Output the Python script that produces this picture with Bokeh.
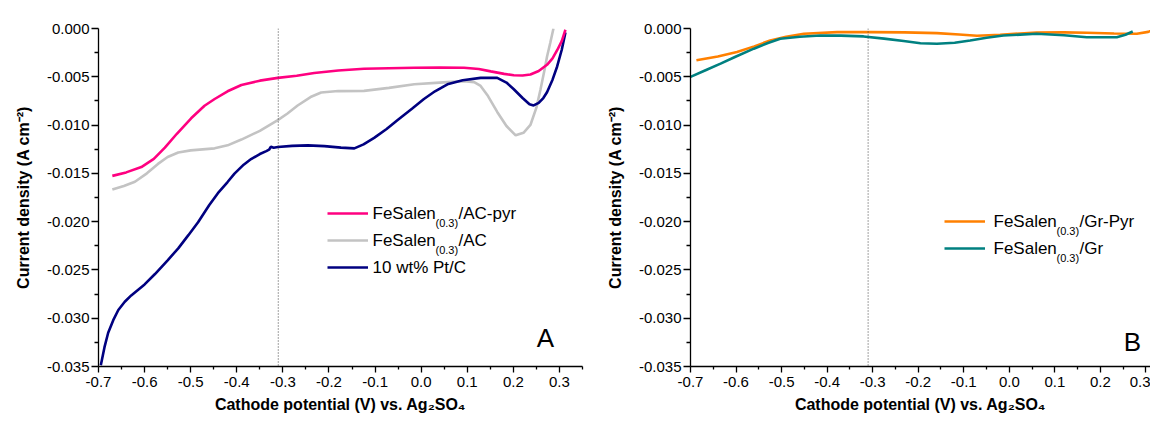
from bokeh.plotting import figure
from bokeh.layouts import row
from bokeh.models import (Range1d, FixedTicker, NumeralTickFormatter, Span,
                          Label, Legend, LegendItem)
from bokeh.embed import file_html
from bokeh.resources import INLINE

# ---------------- data ----------------
ref_potential = -0.31

x_ticks = [-0.7, -0.6, -0.5, -0.4, -0.3, -0.2, -0.1, 0.0, 0.1, 0.2, 0.3]
x_minor = [-0.65, -0.55, -0.45, -0.35, -0.25, -0.15, -0.05, 0.05, 0.15, 0.25, 0.35]
y_ticks = [-0.035, -0.030, -0.025, -0.020, -0.015, -0.010, -0.005, 0.0]
y_minor = [-0.0325, -0.0275, -0.0225, -0.0175, -0.0125, -0.0075, -0.0025]

pink_x = [-0.670, -0.640, -0.607, -0.580, -0.556, -0.530, -0.499, -0.470, -0.448, -0.420,
          -0.390, -0.350, -0.311, -0.270, -0.232, -0.180, -0.124, -0.070, -0.015, 0.040,
          0.093, 0.125, 0.151, 0.180, 0.201, 0.220, 0.237, 0.255, 0.273, 0.285, 0.295,
          0.305, 0.313]
pink_y = [-0.01526, -0.01490, -0.01435, -0.01350, -0.01234, -0.01090, -0.00930, -0.00800,
          -0.00730, -0.00650, -0.00585, -0.00540, -0.00511, -0.00490, -0.00460, -0.00435,
          -0.00417, -0.00412, -0.00407, -0.00405, -0.00407, -0.00420, -0.00444, -0.00470,
          -0.00484, -0.00486, -0.00477, -0.00440, -0.00376, -0.00310, -0.00225, -0.00130,
          -0.00013]

gray_x = [-0.670, -0.645, -0.621, -0.595, -0.571, -0.550, -0.527, -0.500, -0.448, -0.420,
          -0.390, -0.350, -0.311, -0.290, -0.268, -0.240, -0.217, -0.180, -0.124, -0.070,
          -0.015, 0.040, 0.093, 0.115, 0.129, 0.145, 0.165, 0.185, 0.205, 0.222, 0.237,
          0.250, 0.259, 0.268, 0.273, 0.280, 0.287]
gray_y = [-0.01668, -0.01630, -0.01587, -0.01500, -0.01402, -0.01330, -0.01284, -0.01262,
          -0.01241, -0.01210, -0.01150, -0.01060, -0.00948, -0.00880, -0.00797, -0.00710,
          -0.00663, -0.00648, -0.00646, -0.00615, -0.00578, -0.00560, -0.00545, -0.00555,
          -0.00595, -0.00700, -0.00864, -0.01010, -0.01106, -0.01080, -0.00999, -0.00820,
          -0.00629, -0.00420, -0.00293, -0.00150, 0.00000]

navy_x = [-0.695, -0.687, -0.679, -0.668, -0.657, -0.643, -0.629, -0.600, -0.578, -0.550,
          -0.527, -0.505, -0.484, -0.460, -0.441, -0.420, -0.405, -0.385, -0.369, -0.350,
          -0.336, -0.330, -0.326, -0.320, -0.311, -0.280, -0.246, -0.210, -0.174, -0.145,
          -0.125, -0.102, -0.075, -0.051, -0.020, 0.006, 0.030, 0.057, 0.090, 0.129, 0.165,
          0.185, 0.201, 0.220, 0.235, 0.244, 0.255, 0.265, 0.273, 0.285, 0.295, 0.305, 0.313]
navy_y = [-0.03487, -0.03300, -0.03150, -0.03020, -0.02915, -0.02830, -0.02764, -0.02650,
          -0.02545, -0.02400, -0.02277, -0.02140, -0.02007, -0.01830, -0.01705, -0.01590,
          -0.01503, -0.01410, -0.01352, -0.01300, -0.01270, -0.01255, -0.01225, -0.01235,
          -0.01227, -0.01215, -0.01210, -0.01218, -0.01234, -0.01241, -0.01200, -0.01133,
          -0.01040, -0.00948, -0.00830, -0.00730, -0.00650, -0.00578, -0.00535, -0.00511,
          -0.00511, -0.00560, -0.00629, -0.00720, -0.00785, -0.00797, -0.00770, -0.00720,
          -0.00660, -0.00530, -0.00393, -0.00220, -0.00040]

orange_x = [-0.687, -0.640, -0.598, -0.560, -0.525, -0.490, -0.451, -0.378, -0.305, -0.230,
            -0.159, -0.110, -0.071, -0.020, 0.060, 0.120, 0.170, 0.230, 0.280, 0.305, 0.325]
orange_y = [-0.00329, -0.00290, -0.00244, -0.00185, -0.00124, -0.00085, -0.00055, -0.00038,
            -0.00038, -0.00040, -0.00048, -0.00062, -0.00075, -0.00065, -0.00041, -0.00040,
            -0.00044, -0.00052, -0.00055, -0.00035, 0.00005]

teal_x = [-0.700, -0.667, -0.634, -0.600, -0.561, -0.530, -0.503, -0.460, -0.415, -0.370,
          -0.320, -0.275, -0.232, -0.195, -0.159, -0.120, -0.086, -0.050, -0.013, 0.060,
          0.120, 0.170, 0.236, 0.255, 0.271]
teal_y = [-0.00501, -0.00432, -0.00364, -0.00290, -0.00209, -0.00150, -0.00106, -0.00085,
          -0.00072, -0.00074, -0.00082, -0.00105, -0.00130, -0.00152, -0.00158, -0.00148,
          -0.00124, -0.00095, -0.00072, -0.00055, -0.00070, -0.00090, -0.00090, -0.00065,
          -0.00031]

x_label = "Cathode potential (V) vs. Ag\u2082SO\u2084"
y_label = "Current density (A cm\u207b\u00b2)"

FONT = "Liberation Sans"


def style(p):
    p.outline_line_color = None
    p.grid.visible = False
    p.background_fill_color = "white"
    for ax in (p.xaxis[0], p.yaxis[0]):
        ax.axis_line_color = "black"
        ax.axis_line_width = 1.3
        ax.major_tick_line_color = "black"
        ax.minor_tick_line_color = "black"
        ax.major_tick_line_width = 1.3
        ax.minor_tick_line_width = 1.3
        ax.major_tick_in = 0
        ax.minor_tick_in = 0
        ax.major_label_text_font = FONT
        ax.major_label_text_font_size = "15px"
        ax.major_label_text_color = "black"
        ax.axis_label_text_font = FONT
        ax.axis_label_text_font_style = "bold"
        ax.axis_label_text_font_size = "16px"
        ax.axis_label_text_color = "black"
    xa = p.xaxis[0]
    xa.ticker = FixedTicker(ticks=x_ticks, minor_ticks=x_minor)
    xa.formatter = NumeralTickFormatter(format="0.0")
    xa.major_tick_out = 6
    xa.minor_tick_out = 3
    xa.major_label_standoff = 4
    xa.axis_label_standoff = 6
    xa.axis_label = x_label
    ya = p.yaxis[0]
    ya.ticker = FixedTicker(ticks=y_ticks, minor_ticks=y_minor)
    ya.formatter = NumeralTickFormatter(format="0.000")
    ya.major_tick_out = 7
    ya.minor_tick_out = 4
    ya.major_label_standoff = 2
    ya.axis_label_standoff = 12
    ya.axis_label = y_label
    p.add_layout(Span(location=ref_potential, dimension="height", line_color="#444444",
                      line_width=1, line_dash="1 2"))


def legend_block(p, renderers, names, vx, vy, tx, ty0):
    items = [LegendItem(label=" ", renderers=[r]) for r in renderers]
    lg = Legend(items=items, location=(vx, vy), padding=0, margin=0, spacing=7,
                glyph_width=41, glyph_height=20, label_height=20, label_width=1,
                label_standoff=0, label_text_font_size="1px",
                border_line_color=None, background_fill_alpha=0)
    p.add_layout(lg)
    for i, parts in enumerate(names):
        y = ty0 - 27 * i
        if len(parts) == 1:
            p.add_layout(Label(x=tx, y=y, x_units="screen", y_units="screen", text=parts[0],
                               text_font=FONT, text_font_size="17px", text_baseline="middle",
                               text_color="black"))
        else:
            main, sub, rest = parts
            p.add_layout(Label(x=tx, y=y, x_units="screen", y_units="screen", text=main,
                               text_font=FONT, text_font_size="17px", text_baseline="middle",
                               text_color="black"))
            p.add_layout(Label(x=tx + 63, y=y - 9, x_units="screen", y_units="screen", text=sub,
                               text_font=FONT, text_font_size="11px", text_baseline="middle",
                               text_color="black"))
            p.add_layout(Label(x=tx + 86, y=y, x_units="screen", y_units="screen", text=rest,
                               text_font=FONT, text_font_size="17px", text_baseline="middle",
                               text_color="black"))


# ---------------- panel A ----------------
pA = figure(width=590, height=415, x_range=Range1d(-0.7, 0.35), y_range=Range1d(-0.035, 0.0),
            output_backend="svg", toolbar_location=None,
            min_border_left=98, min_border_right=8, min_border_top=21, min_border_bottom=47)
style(pA)
rg = pA.line(gray_x, gray_y, line_color="#C3C3C3", line_width=2.6)
rn = pA.line(navy_x, navy_y, line_color="#000080", line_width=2.6)
rp = pA.line(pink_x, pink_y, line_color="#FF0080", line_width=2.6)
legend_block(pA, [rp, rg, rn],
             [("FeSalen", "(0.3)", "/AC-pyr"), ("FeSalen", "(0.3)", "/AC"), ("10 wt% Pt/C",)],
             229, 89, 274, 153)
pA.add_layout(Label(x=447, y=29, x_units="screen", y_units="screen", text="A",
                    text_font=FONT, text_font_size="26px", text_align="center",
                    text_baseline="middle", text_color="black"))

# ---------------- panel B ----------------
pB = figure(width=560, height=415, x_range=Range1d(-0.7, 0.31), y_range=Range1d(-0.035, 0.0),
            output_backend="svg", toolbar_location=None,
            min_border_left=100, min_border_right=0, min_border_top=28, min_border_bottom=47)
style(pB)
ro = pB.line(orange_x, orange_y, line_color="#FF8000", line_width=2.6)
rt = pB.line(teal_x, teal_y, line_color="#008080", line_width=2.6)
legend_block(pB, [ro, rt],
             [("FeSalen", "(0.3)", "/Gr-Pyr"), ("FeSalen", "(0.3)", "/Gr")],
             254, 108, 303, 145)
pB.add_layout(Label(x=442, y=25, x_units="screen", y_units="screen", text="B",
                    text_font=FONT, text_font_size="26px", text_align="center",
                    text_baseline="middle", text_color="black"))

layout = row(pA, pB)
open("out.html", "w").write(file_html(layout, INLINE))
